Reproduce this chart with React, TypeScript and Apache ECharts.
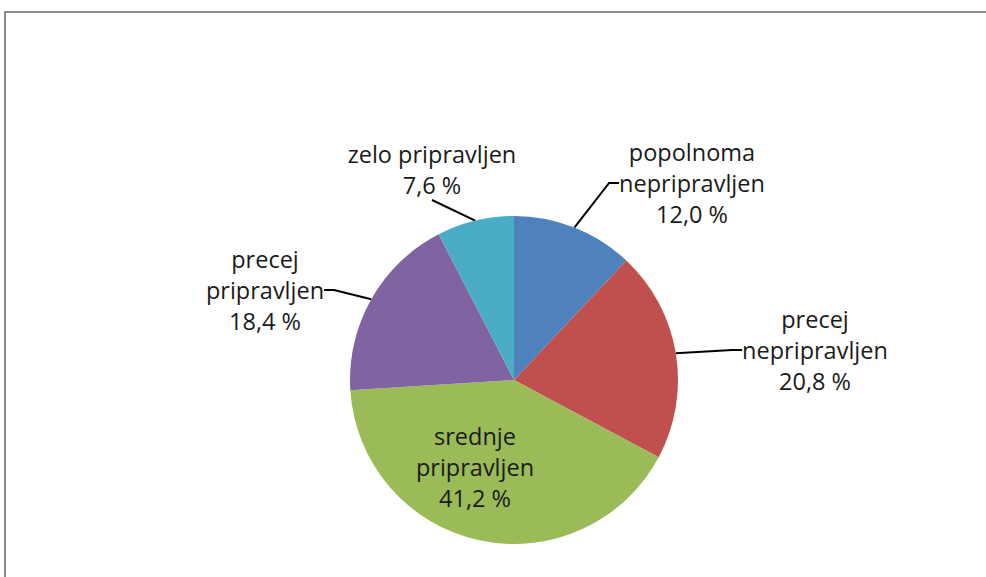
import React, { useEffect, useRef } from "react";
import * as echarts from "echarts";

const categories = [
  "popolnoma\nnepripravljen",
  "precej\nnepripravljen",
  "srednje\npripravljen",
  "precej\npripravljen",
  "zelo pripravljen",
];
const values = [12.0, 20.8, 41.2, 18.4, 7.6];
const colors = ["#4F81BD", "#C0504D", "#9BBB59", "#8064A2", "#4BACC6"];
const labelSpots = [
  [692, 183],
  [815, 350],
  [475, 467],
  [265, 290],
  [432, 169],
];

export default function App() {
  const ref = useRef<HTMLDivElement>(null);
  useEffect(() => {
    const chart = echarts.init(ref.current!, null, { renderer: "svg" });
    chart.setOption({
      animation: false,
      backgroundColor: "#ffffff",
      graphic: [
        {
          type: "rect",
          shape: { x: 5, y: 12, width: 1000, height: 600 },
          style: { fill: "none", stroke: "#8a8a8a", lineWidth: 2 },
          silent: true,
        },
      ],
      series: [
        {
          type: "pie",
          center: [514, 380],
          radius: 164,
          startAngle: 90,
          clockwise: true,
          data: values.map((v, i) => ({
            name: categories[i],
            value: v,
            itemStyle: { color: colors[i] },
            label: i === 2 ? { position: "inside" } : undefined,
            labelLine:
              i === 2
                ? { show: false }
                : i === 4
                ? { length: 22, length2: 0 }
                : undefined,
          })),
          label: {
            show: true,
            formatter: (p: any) =>
              p.name + "\n" + p.value.toFixed(1).replace(".", ",") + " %",
            fontFamily: "Open Sans",
            fontSize: 23.5,
            lineHeight: 31,
            color: "#1a1a1a",
            align: "center",
          },
          labelLine: {
            show: true,
            length: 30,
            length2: 10,
            lineStyle: { color: "#000000", width: 2 },
          },
          labelLayout: (params: any) => {
            const s = labelSpots[params.dataIndex];
            return { x: s[0], y: s[1], align: "center", verticalAlign: "middle" };
          },
        },
      ],
    });
    return () => chart.dispose();
  }, []);
  return (
    <div
      ref={ref}
      style={{ position: "fixed", left: 0, top: 0, width: 986, height: 577 }}
    />
  );
}
